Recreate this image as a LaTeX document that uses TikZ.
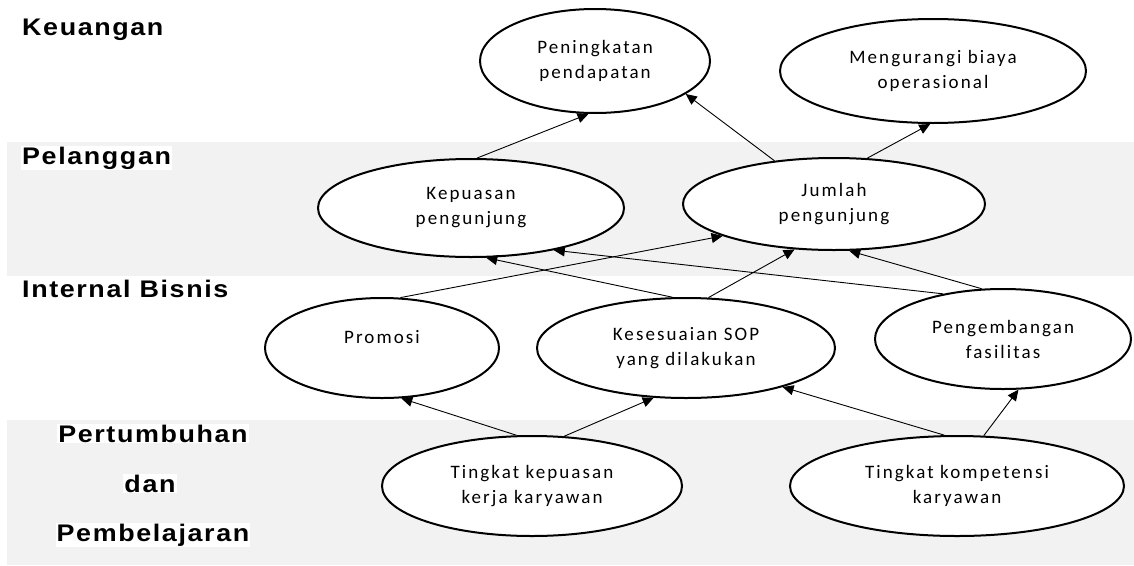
\documentclass[tikz,border=0pt]{standalone}
\usepackage{fontspec}
\usepackage{graphicx}
\usepackage{tikz}
\usetikzlibrary{shapes.geometric,arrows.meta}
\setmainfont{Liberation Sans}
\newfontfamily\judulfont[LetterSpace=6]{Liberation Sans}
\newfontfamily\isifont[LetterSpace=11]{Carlito}
\definecolor{abupita}{RGB}{242,242,242}
\newcommand{\judul}[1]{\scalebox{1.12}[1]{#1}}

\begin{document}
\begin{tikzpicture}[x=1pt,y=-1pt,
  tujuan/.style={draw, ellipse, line width=2pt, fill=white, inner sep=0pt, align=center,
    font=\isifont\fontsize{19}{25}\selectfont},
  perspektif/.style={font=\judulfont\bfseries\fontsize{24}{28}\selectfont, fill=white, inner sep=1pt},
  panah/.style={-{Triangle[length=11pt,width=10pt]}, line width=0.9pt}]
\useasboundingbox (0,0) rectangle (1134,565);
\fill[abupita] (7,142) rectangle (1134,276);
\fill[abupita] (7,420) rectangle (1134,565);

\node[perspektif, anchor=base west] (keuangan) at (21,35) {\judul{Keuangan}};
\node[perspektif, anchor=base west] (pelanggan) at (21,164) {\judul{Pelanggan}};
\node[perspektif, anchor=base west] (internal) at (21,297) {\judul{Internal Bisnis}};
\node[perspektif, anchor=base] (pertumbuhan) at (153,442) {\judul{Pertumbuhan}};
\node[perspektif, anchor=base] (dan) at (150,492) {\judul{dan}};
\node[perspektif, anchor=base] (pembelajaran) at (153,541) {\judul{Pembelajaran}};

\node[tujuan, minimum width=230pt, minimum height=104pt] (peningkatan) at (595,61) {Peningkatan\\pendapatan};
\node[tujuan, minimum width=306pt, minimum height=104pt] (biaya) at (933,71) {Mengurangi biaya\\operasional};
\node[tujuan, minimum width=306pt, minimum height=98pt] (kepuasan) at (471,208) {Kepuasan\\pengunjung};
\node[tujuan, minimum width=302pt, minimum height=92pt] (jumlah) at (834,204) {Jumlah\\pengunjung};
\node[tujuan, minimum width=234pt, minimum height=100pt] (promosi) at (382,348) {\raisebox{5pt}[0pt][0pt]{Promosi}};
\node[tujuan, minimum width=298pt, minimum height=100pt] (sop) at (686,348) {Kesesuaian SOP\\yang dilakukan};
\node[tujuan, minimum width=256pt, minimum height=100pt] (fasilitas) at (1003,339) {Pengembangan\\fasilitas};
\node[tujuan, minimum width=300pt, minimum height=100pt] (kerja) at (532,486) {Tingkat kepuasan\\kerja karyawan};
\node[tujuan, minimum width=334pt, minimum height=100pt] (kompetensi) at (957,486) {Tingkat kompetensi\\karyawan};

\draw[panah] (kepuasan.83) -- (peningkatan.-97);
\draw[panah] (jumlah.144) -- (peningkatan.-20);
\draw[panah] (jumlah.54) -- (biaya.-93);
\draw[panah] (promosi.70) -- (jumlah.196);
\draw[panah] (sop.105) -- (kepuasan.-73);
\draw[panah] (sop.66) -- (jumlah.-131);
\draw[panah] (fasilitas.143) -- (kepuasan.-27);
\draw[panah] (fasilitas.113) -- (jumlah.-72);
\draw[panah] (kerja.107) -- (promosi.-69);
\draw[panah] (kerja.57) -- (sop.-123);
\draw[panah] (kompetensi.104) -- (sop.-22);
\draw[panah] (kompetensi.62) -- (fasilitas.-73);
\end{tikzpicture}
\end{document}
